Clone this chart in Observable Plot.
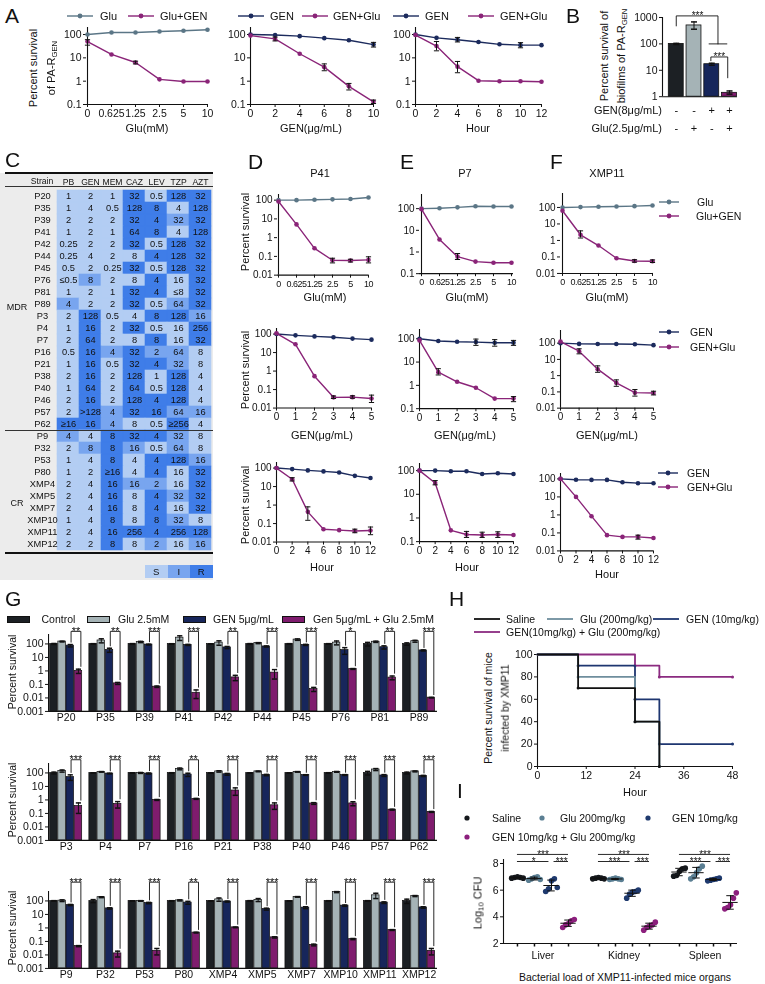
<!DOCTYPE html>
<html>
<head>
<meta charset="utf-8">
<script src="https://cdn.jsdelivr.net/npm/d3@7"></script>
<script src="https://cdn.jsdelivr.net/npm/@observablehq/plot@0.6"></script>
<style>
  html, body { margin: 0; padding: 0; background: #fff; }
  #fig { position: relative; width: 765px; height: 984px; overflow: hidden; background: #fff;
         font-family: "Liberation Sans", Arial, Helvetica, sans-serif; color: #111; }
  .abs { position: absolute; white-space: nowrap; line-height: 1; }
  #fig svg { overflow: visible; }
  sub { font-size: 70%; vertical-align: -2px; line-height: 0; }
</style>
</head>
<body>
<div id="fig"></div>
<script>
// ---------------- data ----------------
// Panel A: PA-R(GEN) killing
const gluDoses = ["0", "0.625", "1.25", "2.5", "5", "10"];
const aGluAlone = [100, 122, 122, 135, 145, 160];
const aGluCombo = [50, 14, 6.3, 1.2, 0.97, 0.97];
const aGluComboErr = [[35, 60], null, [5.5, 7.2], null, null, null];
const aGenDoses = [0, 2, 4, 6, 8, 10];
const aGenAlone = [100, 95, 85, 70, 57, 37];
const aGenAloneErr = [null, null, null, null, null, [29, 46]];
const aGenCombo = [90, 65, 15, 4, 0.6, 0.13];
const aGenComboErr = [null, [53, 78], null, [2.8, 5.5], [0.42, 0.8], [0.11, 0.155]];
const hours = [0, 2, 4, 6, 8, 10, 12];
const aTimeAlone = [100, 72, 60, 48, 38, 35, 35];
const aTimeAloneErr = [null, null, [48, 75], null, null, [27, 45], null];
const aTimeCombo = [95, 32, 4.2, 1.05, 1.0, 1.0, 0.95];
const aTimeComboErr = [null, [20, 50], [2.3, 7], null, null, null, null];

// Panel B: biofilm survival
const bGroups = ["Control", "Glu", "GEN", "GEN+Glu"];
const bMean = [100, 500, 17, 1.4];
const bErr = [[95, 105], [360, 680], [15.5, 18.5], [1.25, 1.65]];
const bGenSign = ["-", "-", "+", "+"];
const bGluSign = ["-", "+", "-", "+"];

// Panel C: MIC table (µg/mL) and S / I / R class
const cDrugs = ["PB", "GEN", "MEM", "CAZ", "LEV", "TZP", "AZT"];
const cStrains = ["P20","P35","P39","P41","P42","P44","P45","P76","P81","P89","P3","P4","P7","P16","P21","P38","P40","P46","P57","P62",
                  "P9","P32","P53","P80","XMP4","XMP5","XMP7","XMP10","XMP11","XMP12"];
const cMic = [
  ["1","2","1","32","0.5","128","32"],
  ["1","4","0.5","128","8","4","128"],
  ["2","2","2","32","4","32","32"],
  ["1","2","1","64","8","4","128"],
  ["0.25","2","2","32","0.5","128","32"],
  ["0.25","4","2","8","4","128","32"],
  ["0.5","2","0.25","32","0.5","128","32"],
  ["≤0.5","8","2","8","4","16","32"],
  ["1","2","1","32","4","≤8","32"],
  ["4","2","2","32","0.5","64","32"],
  ["2","128","0.5","4","8","128","16"],
  ["1","16","2","32","0.5","16","256"],
  ["2","64","2","8","8","16","32"],
  ["0.5","16","4","32","2","64","8"],
  ["1","16","0.5","32","4","32","8"],
  ["2","16","2","128","1","128","4"],
  ["1","64","2","64","0.5","128","4"],
  ["2","16","2","128","4","128","4"],
  ["2",">128","4","32","16","64","16"],
  ["≥16","16","4","8","0.5","≥256","4"],
  ["4","4","8","32","4","32","8"],
  ["2","8","8","16","0.5","64","8"],
  ["1","4","8","4","4","128","16"],
  ["1","2","≥16","4","4","16","32"],
  ["2","4","16","16","2","16","32"],
  ["2","4","16","8","4","32","32"],
  ["2","4","16","8","4","16","32"],
  ["1","4","8","8","8","32","8"],
  ["2","4","16","256","4","256","128"],
  ["2","2","8","8","2","16","16"]
];
const cClass = ["SSSRSRR","SSSRRSR","SSSRRIR","SSSRRSR","SSSRSRR","SSSSRRR","SSSRSRR","SISSRSR","SSSRRSR","ISSRSIR",
                "SRSSRRI","SRSRSSR","SRSSRSR","SRIRIIS","SRSRRIS","SRSRSRS","SRSRSRS","SRSRRRS","SRIRRII","RRISSRS",
                "ISRRRIS","SIRISIS","SSRSRRI","SSRSRSR","SSRIISR","SSRSRIR","SSRSRSR","SSRSRIS","SSRRRRR","SSRSISI"];

// Panels D-F: three clinical strains
const genDoses = [0, 1, 2, 3, 4, 5];
const p41GluAlone = [100, 100, 105, 110, 115, 138];
const p41GluCombo = [85, 5.1, 0.27, 0.062, 0.06, 0.065];
const p41GluComboErr = [null, null, null, [0.045, 0.08], [0.05, 0.07], [0.045, 0.095]];
const p41GenAlone = [100, 85, 75, 67, 57, 50];
const p41GenCombo = [110, 28, 0.53, 0.038, 0.039, 0.033];
const p41GenComboErr = [null, null, null, [0.033, 0.045], [0.034, 0.046], [0.02, 0.05]];
const p41TimeAlone = [100, 88, 75, 66, 58, 38, 29];
const p41TimeCombo = [100, 25, 0.43, 0.049, 0.044, 0.04, 0.042];
const p41TimeComboErr = [null, [20, 30], [0.15, 0.8], null, null, [0.032, 0.05], [0.025, 0.065]];

const p7GluAlone = [100, 105, 115, 130, 125, 125];
const p7GluCombo = [95, 3.8, 0.61, 0.36, 0.32, 0.32];
const p7GluComboErr = [null, null, [0.45, 0.85], null, null, null];
const p7GenAlone = [100, 80, 74, 72, 67, 67];
const p7GenAloneErr = [null, null, null, [52, 97], [48, 92], [52, 85]];
const p7GenCombo = [85, 3.7, 1.43, 0.79, 0.27, 0.27];
const p7GenComboErr = [null, [2.8, 5.2], null, null, null, [0.2, 0.33]];
const p7TimeAlone = [100, 100, 94, 94, 72, 77, 72];
const p7TimeCombo = [100, 30, 0.3, 0.2, 0.19, 0.2, 0.19];
const p7TimeComboErr = [null, [25, 38], null, [0.15, 0.27], [0.15, 0.25], [0.15, 0.26], null];

const xmp11GluAlone = [100, 105, 110, 115, 120, 130];
const xmp11GluCombo = [63, 2.2, 0.49, 0.083, 0.057, 0.055];
const xmp11GluComboErr = [null, [1.4, 3.8], null, null, [0.048, 0.068], [0.046, 0.066]];
const xmp11GenAlone = [100, 90, 88, 88, 85, 75];
const xmp11GenCombo = [125, 32, 2.5, 0.36, 0.09, 0.085];
const xmp11GenComboErr = [null, [22, 45], [1.6, 4], [0.22, 0.55], [0.055, 0.14], [0.065, 0.11]];
const xmp11TimeAlone = [100, 90, 88, 88, 65, 58, 57];
const xmp11TimeCombo = [100, 10, 0.85, 0.075, 0.06, 0.06, 0.052];
const xmp11TimeComboErr = [null, null, null, null, null, [0.045, 0.075], null];

// Panel G: 30 strains, [mean, sd]
const g1Strains = ["P20","P35","P39","P41","P42","P44","P45","P76","P81","P89"];
const g1Control = [[100,8],[100,5],[100,6],[100,4],[100,3],[100,6],[100,5],[100,5],[100,30],[100,20]];
const g1Glu = [[150,10],[180,60],[140,15],[290,110],[125,45],[115,10],[210,25],[125,40],[145,15],[160,25]];
const g1Gen = [[75,15],[36,12],[90,6],[85,8],[55,10],[65,6],[85,8],[35,18],[57,15],[33,3]];
const g1Combo = [[1.0,0.35],[0.12,0.02],[0.068,0.008],[0.024,0.015],[0.33,0.14],[0.75,0.5],[0.045,0.015],[1.4,0.1],[0.32,0.1],[0.0105,0.0005]];
const g1Sig = ["**","**","***","***","**","***","***","*","**","***"];

const g2Strains = ["P3","P4","P7","P16","P21","P38","P40","P46","P57","P62"];
const g2Control = [[100,15],[100,3],[100,3],[100,4],[100,3],[100,3],[100,3],[100,4],[100,30],[100,15]];
const g2Glu = [[140,25],[120,6],[100,8],[200,30],[130,15],[130,8],[120,6],[120,8],[180,30],[130,10]];
const g2Gen = [[50,22],[90,5],[90,8],[75,20],[80,12],[70,8],[70,4],[70,5],[65,10],[60,6]];
const g2Combo = [[0.35,0.25],[0.5,0.25],[1.0,0.08],[1.2,0.1],[5,2.8],[0.4,0.2],[0.55,0.08],[0.55,0.18],[0.19,0.015],[0.13,0.01]];
const g2Sig = ["***","***","***","**","***","***","***","***","***","***"];

const g3Strains = ["P9","P32","P53","P80","XMP4","XMP5","XMP7","XMP10","XMP11","XMP12"];
const g3Control = [[100,5],[100,25],[100,3],[100,4],[100,3],[100,5],[100,3],[100,4],[100,5],[100,35]];
const g3Glu = [[105,15],[190,15],[100,5],[110,10],[130,35],[120,30],[200,10],[450,40],[260,110],[230,20]];
const g3Gen = [[50,5],[28,3],[70,8],[75,18],[90,8],[25,4],[32,5],[45,5],[75,10],[33,4]];
const g3Combo = [[0.045,0.004],[0.013,0.006],[0.02,0.01],[0.45,0.03],[1.1,0.06],[0.2,0.02],[0.055,0.008],[0.15,0.015],[0.7,0.05],[0.02,0.01]];
const g3Sig = ["***","***","***","**","***","***","***","***","***","***"];

// Panel H: mouse survival (%), step points
const hSalineT = [0, 10, 24, 30], hSalineS = [100, 70, 40, 0];
const hGluT = [0, 10, 24, 30], hGluS = [100, 80, 40, 0];
const hGenT = [0, 10, 24, 30, 48], hGenS = [100, 90, 60, 20, 20];
const hComboT = [0, 24, 30, 48], hComboS = [100, 90, 80, 80];

// Panel I: log10 CFU per organ, 5 mice per group
const organs = ["Liver", "Kidney", "Spleen"];
const iSaline = [[6.9, 6.95, 7.0, 6.95, 6.9], [6.85, 6.9, 6.95, 6.9, 6.85], [7.05, 7.1, 7.4, 7.6, 7.65]];
const iGlu = [[6.75, 6.85, 6.95, 7.0, 6.8], [6.8, 6.85, 6.9, 6.85, 6.8], [6.85, 7.0, 7.3, 7.6, 7.8]];
const iGen = [[5.9, 6.1, 6.7, 6.85, 6.2], [5.4, 5.7, 5.85, 5.9, 6.0], [6.7, 6.75, 6.8, 6.85, 6.9]];
const iCombo = [[3.2, 3.4, 3.5, 3.7, 3.8], [3.0, 3.2, 3.3, 3.4, 3.6], [4.6, 4.7, 4.9, 5.4, 5.8]];
const iSigTop = ["***", "***", "***"], iSigLeft = ["*", "***", "***"], iSigRight = ["***", "***", "***"];

// ---------------- drawing helpers ----------------
const fig = document.getElementById("fig");
const FONT = '"Liberation Sans", Arial, Helvetica, sans-serif';
const COL = {
  ctrl: "#1c2024", gluBar: "#a5b3b6", gen: "#17265b", combo: "#7f1c6e",
  gluLine: "#5b7686", genLine: "#1c2b5d", comboLine: "#8a2478",
  S: "#b3cdf3", I: "#78a5ef", R: "#3f7de8"
};
const num = d => String(d);

function text(str, x, y, o = {}) {
  const d = document.createElement("div");
  d.className = "abs";
  d.style.fontSize = (o.size || 10.5) + "px";
  if (o.html) d.innerHTML = str; else d.textContent = str;
  d.style.left = x + "px";
  d.style.top = y + "px";
  const tx = o.anchor === "middle" ? "-50%" : o.anchor === "end" ? "-100%" : "0";
  d.style.transform = o.rotate ? "translate(-50%,-50%) rotate(-90deg)" : `translate(${tx},-50%)`;
  fig.appendChild(d);
  return d;
}
function box(x, y, w, h, color, border) {
  const d = document.createElement("div");
  d.className = "abs";
  Object.assign(d.style, {left: x + "px", top: y + "px", width: w + "px", height: h + "px", background: color, boxSizing: "border-box"});
  if (border) d.style.border = border;
  fig.appendChild(d);
  return d;
}
function lineKey(x, y, color, w = 26, dot = true, sw = 1.4) {
  fig.insertAdjacentHTML("beforeend",
    `<svg class="abs" style="left:${x}px;top:${y - 5}px" width="${w}" height="10"><line x1="0" y1="5" x2="${w}" y2="5" stroke="${color}" stroke-width="${sw}"/>` +
    (dot ? `<circle cx="${w / 2}" cy="5" r="2.4" fill="${color}"/>` : "") + `</svg>`);
}
function dotKey(x, y, color, r = 2.6) {
  fig.insertAdjacentHTML("beforeend",
    `<svg class="abs" style="left:${x - 5}px;top:${y - 5}px" width="10" height="10"><circle cx="5" cy="5" r="${r}" fill="${color}"/></svg>`);
}
const logFrame = (x0, x1, yMin, perDec, lo, hi) => ({x0, x1, y1: yMin, y0: yMin - perDec * Math.log10(hi / lo)});

// place a plot so that its frame lands on the given page rectangle
function place(f, opts, fontSize = 10.5) {
  const ml = f.ml ?? 40, mr = f.mr ?? 10, mt = f.mt ?? 8, mb = f.mb ?? 24;
  const svg = Plot.plot({
    width: f.x1 - f.x0 + ml + mr,
    height: f.y1 - f.y0 + mt + mb,
    marginLeft: ml, marginRight: mr, marginTop: mt, marginBottom: mb,
    style: {fontFamily: FONT, fontSize: fontSize + "px", background: "none", overflow: "visible", color: "#111"},
    ...opts
  });
  svg.style.position = "absolute";
  svg.style.left = (f.x0 - ml) + "px";
  svg.style.top = (f.y0 - mt) + "px";
  svg.style.maxWidth = "none";
  svg.style.willChange = "transform";
  fig.appendChild(svg);
  return svg;
}
const capSymbol = w => ({draw(ctx) { ctx.moveTo(-w, 0); ctx.lineTo(w, 0); }});
const tickSymbol = h => ({draw(ctx) { ctx.moveTo(0, 0); ctx.lineTo(0, h); }});

// time-kill / dose-response curve on a log axis
function survival(frame, xOpt, yDomain, yTicks, series, fontSize = 10, xTickCss = null) {
  const marks = [
    Plot.ruleY([yDomain[0]], {stroke: "#111", strokeWidth: 1.1}),
    Plot.ruleX([xOpt.domain[0]], {stroke: "#111", strokeWidth: 1.1})
  ];
  const errs = [];
  for (const s of series) {
    const pts = s.ys.map((v, i) => ({x: s.xs[i], y: v}));
    marks.push(Plot.line(pts, {x: "x", y: "y", stroke: s.color, strokeWidth: 1.4}));
    marks.push(Plot.dot(pts, {x: "x", y: "y", r: 2.3, fill: s.color}));
    (s.err || []).forEach((e, i) => { if (e) errs.push({x: s.xs[i], lo: e[0], hi: e[1]}); });
  }
  marks.push(Plot.ruleX(errs, {x: "x", y1: "lo", y2: "hi", stroke: "#111", strokeWidth: 1}));
  marks.push(Plot.dot(errs, {x: "x", y: "lo", symbol: capSymbol(2.6), stroke: "#111", fill: "none", strokeWidth: 1}));
  marks.push(Plot.dot(errs, {x: "x", y: "hi", symbol: capSymbol(2.6), stroke: "#111", fill: "none", strokeWidth: 1}));
  const svg = place(frame, {
    x: {tickFormat: num, ...xOpt, tickSize: 3, tickPadding: 2, label: null},
    y: {type: "log", domain: yDomain, ticks: yTicks, tickFormat: num, tickSize: 3, tickPadding: 2, label: null},
    marks
  }, fontSize);
  if (xTickCss) {
    svg.querySelectorAll('[aria-label="x-axis tick label"] text, [aria-label="x-axis"] text')
      .forEach(t => Object.assign(t.style, xTickCss));
  }
}

// ---------------- Panel A ----------------
text("A", 5, 15, {size: 21});
const aY = [0.1, 200], aTicks = [0.1, 1, 10, 100];
survival(logFrame(86, 208, 104.3, 23.33, 0.1, 200), {type: "point", domain: gluDoses, padding: 0}, aY, aTicks, [
  {xs: gluDoses, ys: aGluAlone, color: COL.gluLine},
  {xs: gluDoses, ys: aGluCombo, err: aGluComboErr, color: COL.comboLine}
], 10.5);
survival(logFrame(250, 373, 104.3, 23.33, 0.1, 200), {domain: [0, 10], ticks: aGenDoses}, aY, aTicks, [
  {xs: aGenDoses, ys: aGenAlone, err: aGenAloneErr, color: COL.genLine},
  {xs: aGenDoses, ys: aGenCombo, err: aGenComboErr, color: COL.comboLine}
], 10.5);
survival(logFrame(415, 541, 104.3, 23.33, 0.1, 200), {domain: [0, 12], ticks: hours}, aY, aTicks, [
  {xs: hours, ys: aTimeAlone, err: aTimeAloneErr, color: COL.genLine},
  {xs: hours, ys: aTimeCombo, err: aTimeComboErr, color: COL.comboLine}
], 10.5);
lineKey(67, 16, COL.gluLine); text("Glu", 100, 16, {size: 11});
lineKey(128, 16, COL.comboLine); text("Glu+GEN", 160, 16, {size: 11});
lineKey(238, 16, COL.genLine); text("GEN", 270, 16, {size: 11});
lineKey(302, 16, COL.comboLine); text("GEN+Glu", 333, 16, {size: 11});
lineKey(393, 16, COL.genLine); text("GEN", 425, 16, {size: 11});
lineKey(468, 16, COL.comboLine); text("GEN+Glu", 500, 16, {size: 11});
text("Percent survival", 33, 68, {rotate: true, size: 11});
text("of PA-R<sub>GEN</sub>", 51, 68, {rotate: true, size: 11, html: true});
text("Glu(mM)", 147, 128, {anchor: "middle", size: 11});
text("GEN(μg/mL)", 311, 128, {anchor: "middle", size: 11});
text("Hour", 478, 128, {anchor: "middle", size: 11});

// ---------------- Panel B ----------------
text("B", 566, 15, {size: 21});
{
  const rows = bGroups.map((g, i) => ({i, g, v: bMean[i], lo: bErr[i][0], hi: bErr[i][1], gen: bGenSign[i], glu: bGluSign[i]}));
  // comparison brackets: polyline points in (bar position, survival) and star labels
  const brackets = [
    {pts: [[0, 480], [0, 1150], [2.35, 1150], [2.35, 100]], label: "***", at: [1.2, 1150]},
    {pts: [[1.85, 100], [2.85, 100]]},
    {pts: [[1.95, 23], [1.95, 32], [2.9, 32], [2.9, 5.2]], label: "***", at: [2.42, 32]}
  ];
  const bl = brackets.flatMap((b, k) => b.pts.map(([x, y]) => ({k, x, y})));
  const stars = brackets.filter(b => b.label).map(b => ({x: b.at[0], y: b.at[1], s: b.label}));
  place({...logFrame(662, 737, 96, 26.4, 1, 1000), ml: 30, mr: 5, mt: 16, mb: 40}, {
    x: {domain: [-0.775, 3.45], axis: null},
    y: {type: "log", domain: [1, 1000], ticks: [1, 10, 100, 1000], tickFormat: num, tickSize: 3, tickPadding: 2, label: null},
    color: {domain: bGroups, range: [COL.ctrl, COL.gluBar, COL.gen, COL.combo]},
    marks: [
      Plot.rect(rows, {x1: d => d.i - 0.42, x2: d => d.i + 0.42, y1: () => 1, y2: "v", fill: "g", stroke: "#111", strokeWidth: 0.8}),
      Plot.ruleX(rows, {x: "i", y1: "lo", y2: "hi", stroke: "#111"}),
      Plot.dot(rows, {x: "i", y: "hi", symbol: capSymbol(3), stroke: "#111", fill: "none"}),
      Plot.dot(rows, {x: "i", y: "lo", symbol: capSymbol(3), stroke: "#111", fill: "none"}),
      Plot.ruleY([1], {stroke: "#111", strokeWidth: 1.1}),
      Plot.ruleX([-0.775], {stroke: "#111", strokeWidth: 1.1}),
      Plot.line(bl, {x: "x", y: "y", z: "k", stroke: "#111", strokeWidth: 0.9}),
      Plot.text(stars, {x: "x", y: "y", text: "s", fontSize: 10, fill: "#111"}),
      Plot.text(rows, {x: "i", y: () => 1, text: "gen", dy: 14, fontSize: 11}),
      Plot.text(rows, {x: "i", y: () => 1, text: "glu", dy: 32, fontSize: 11})
    ]
  }, 10.5);
}
text("Percent survival of", 604, 56, {rotate: true, size: 11});
text("biofilms of PA-R<sub>GEN</sub>", 621, 56, {rotate: true, size: 11, html: true});
text("GEN(8μg/mL)", 662, 110, {anchor: "end", size: 11});
text("Glu(2.5μg/mL)", 662, 128, {anchor: "end", size: 11});

// ---------------- Panel C ----------------
text("C", 5, 159, {size: 21});
box(0, 173, 213, 407, "#ececec");
{
  const cells = [];
  cStrains.forEach((st, r) => cDrugs.forEach((dr, c) => cells.push({strain: st, drug: dr, mic: cMic[r][c], cls: cClass[r][c]})));
  place({x0: 55, x1: 212, y0: 187, y1: 553, ml: 55, mr: 3, mt: 16, mb: 4}, {
    x: {type: "band", domain: cDrugs, padding: 0},
    y: {type: "band", domain: cStrains, padding: 0},
    color: {domain: ["S", "I", "R"], range: [COL.S, COL.I, COL.R]},
    marks: [
      Plot.cell(cells, {x: "drug", y: "strain", fill: "cls", stroke: "cls", strokeWidth: 0.6}),
      Plot.text(cells, {x: "drug", y: "strain", text: "mic", fill: "#111", fontSize: 9.3}),
      Plot.axisX({anchor: "top", tickSize: 0, tickPadding: 3, label: null, fontSize: 8.6}),
      Plot.axisY({tickSize: 0, tickPadding: 13, textAnchor: "middle", label: null, fontSize: 9.3})
    ]
  }, 9.3);
}
box(5, 172.25, 208, 1.5, "#111");
box(5, 185.5, 208, 1, "#333");
box(5, 429.5, 208, 1, "#333");
box(5, 552.25, 208, 1.5, "#111");
text("Strain", 42, 181, {anchor: "middle", size: 8.6});
text("MDR", 17, 307, {anchor: "middle", size: 9});
text("CR", 17, 503, {anchor: "middle", size: 9});
[["S", COL.S, 145], ["I", COL.I, 167.5], ["R", COL.R, 190]].forEach(([k, c, x]) => {
  box(x, 565, 22.5, 13, c);
  text(k, x + 11.25, 572, {anchor: "middle", size: 9.5});
});

// ---------------- Panels D, E, F ----------------
text("D", 248, 161, {size: 21});
text("E", 400, 161, {size: 21});
text("F", 550, 161, {size: 21});
text("P41", 320, 173, {anchor: "middle", size: 11});
text("P7", 465, 173, {anchor: "middle", size: 11});
text("XMP11", 607, 173, {anchor: "middle", size: 11});
const ptX = {type: "point", domain: gluDoses, padding: 0};
const genX = {domain: [0, 5], ticks: genDoses};
const hrX = {domain: [0, 12], ticks: hours};
const t2 = [0.01, 0.1, 1, 10, 100], t1 = [0.1, 1, 10, 100];
const tight = {fontSize: "9px", letterSpacing: "-0.5px"};
// Glu dose row
survival(logFrame(277, 368, 275, 18.75, 0.01, 200), ptX, [0.01, 200], t2, [
  {xs: gluDoses, ys: p41GluAlone, color: COL.gluLine},
  {xs: gluDoses, ys: p41GluCombo, err: p41GluComboErr, color: COL.comboLine}], 10, tight);
survival(logFrame(419, 513, 273, 21.67, 0.1, 450), ptX, [0.1, 450], t1, [
  {xs: gluDoses, ys: p7GluAlone, color: COL.gluLine},
  {xs: gluDoses, ys: p7GluCombo, err: p7GluComboErr, color: COL.comboLine}], 10, tight);
survival(logFrame(560, 653, 273, 16.5, 0.01, 700), ptX, [0.01, 700], t2, [
  {xs: gluDoses, ys: xmp11GluAlone, color: COL.gluLine},
  {xs: gluDoses, ys: xmp11GluCombo, err: xmp11GluComboErr, color: COL.comboLine}], 10, tight);
// GEN dose row
survival(logFrame(276, 371, 408, 18.5, 0.01, 200), genX, [0.01, 200], t2, [
  {xs: genDoses, ys: p41GenAlone, color: COL.genLine},
  {xs: genDoses, ys: p41GenCombo, err: p41GenComboErr, color: COL.comboLine}]);
survival(logFrame(419, 513, 408, 23.3, 0.1, 250), genX, [0.1, 250], t1, [
  {xs: genDoses, ys: p7GenAlone, err: p7GenAloneErr, color: COL.genLine},
  {xs: genDoses, ys: p7GenCombo, err: p7GenComboErr, color: COL.comboLine}]);
survival(logFrame(560, 653, 408, 16.25, 0.01, 600), genX, [0.01, 600], t2, [
  {xs: genDoses, ys: xmp11GenAlone, color: COL.genLine},
  {xs: genDoses, ys: xmp11GenCombo, err: xmp11GenComboErr, color: COL.comboLine}]);
// time row
survival(logFrame(276, 370, 542, 18.5, 0.01, 200), hrX, [0.01, 200], t2, [
  {xs: hours, ys: p41TimeAlone, color: COL.genLine},
  {xs: hours, ys: p41TimeCombo, err: p41TimeComboErr, color: COL.comboLine}]);
survival(logFrame(419, 513, 541, 23.67, 0.1, 200), hrX, [0.1, 200], t1, [
  {xs: hours, ys: p7TimeAlone, color: COL.genLine},
  {xs: hours, ys: p7TimeCombo, err: p7TimeComboErr, color: COL.comboLine}]);
survival(logFrame(560, 653, 550, 18, 0.01, 200), hrX, [0.01, 200], t2, [
  {xs: hours, ys: xmp11TimeAlone, color: COL.genLine},
  {xs: hours, ys: xmp11TimeCombo, err: xmp11TimeComboErr, color: COL.comboLine}]);
[232, 370, 505].forEach(y => text("Percent survival", 245, y, {rotate: true, size: 11}));
[325, 467, 607].forEach(x => text("Glu(mM)", x, 297, {anchor: "middle", size: 11}));
[322, 465, 607].forEach(x => text("GEN(μg/mL)", x, 435, {anchor: "middle", size: 11}));
text("Hour", 322, 567, {anchor: "middle", size: 11});
text("Hour", 467, 567, {anchor: "middle", size: 11});
text("Hour", 607, 574, {anchor: "middle", size: 11});
lineKey(659, 202, COL.gluLine, 20); text("Glu", 697, 202, {size: 10.5});
lineKey(659, 216, COL.comboLine, 20); text("Glu+GEN", 696, 216, {size: 10.5});
lineKey(659, 332, COL.genLine, 20); text("GEN", 690, 332, {size: 10.5});
lineKey(659, 347, COL.comboLine, 20); text("GEN+Glu", 690, 347, {size: 10.5});
lineKey(658, 473, COL.genLine, 20); text("GEN", 687, 473, {size: 10.5});
lineKey(658, 487, COL.comboLine, 20); text("GEN+Glu", 687, 487, {size: 10.5});

// ---------------- Panel G ----------------
text("G", 5, 598, {size: 21});
function gPanel(frame, strains, control, glu, gen, combo, sig, level) {
  const step = 4.8, yMin = 0.001;
  const keys = ["Control", "Glu", "GEN", "Combo"];
  const rows = [];
  [control, glu, gen, combo].forEach((ser, s) => ser.forEach(([m, sd], g) =>
    rows.push({g, s, key: keys[s], x: g * step + s, v: m, lo: Math.max(m - sd, yMin * 1.2), hi: m + sd})));
  const legs = [], stars = [];
  strains.forEach((st, g) => {
    const a = rows.find(r => r.g === g && r.s === 2), b = rows.find(r => r.g === g && r.s === 3);
    const xl = a.x + 0.1, xr = b.x + 0.3;
    legs.push({g, x: xl, y: a.hi * 1.5}, {g, x: xl, y: level}, {g, x: xr, y: level}, {g, x: xr, y: b.hi * 1.6});
    stars.push({x: (xl + xr) / 2, y: level, s: sig[g]});
  });
  const centers = strains.map((_, g) => g * step + 1.5);
  const names = new Map(centers.map((c, g) => [c, strains[g]]));
  const xDom = [-0.66, 46.95];
  place({...frame, ml: 40, mr: 8, mt: 20, mb: 16}, {
    x: {domain: xDom, ticks: centers, tickFormat: v => names.get(v), tickSize: 0, tickPadding: 2, label: null},
    y: {type: "log", domain: [yMin, 500], ticks: [0.001, 0.01, 0.1, 1, 10, 100], tickFormat: num, tickSize: 3, tickPadding: 2, label: null},
    color: {domain: keys, range: [COL.ctrl, COL.gluBar, COL.gen, COL.combo]},
    marks: [
      Plot.rect(rows, {x1: d => d.x - 0.46, x2: d => d.x + 0.46, y1: () => yMin, y2: "v", fill: "key", stroke: "#111", strokeWidth: 0.7}),
      Plot.ruleX(rows, {x: "x", y1: "lo", y2: "hi", stroke: "#111", strokeWidth: 1}),
      Plot.dot(rows, {x: "x", y: "hi", symbol: capSymbol(2.6), stroke: "#111", fill: "none"}),
      Plot.dot(rows, {x: "x", y: "lo", symbol: capSymbol(2.6), stroke: "#111", fill: "none"}),
      Plot.ruleY([yMin], {stroke: "#111", strokeWidth: 1.1}),
      Plot.ruleX([xDom[0]], {stroke: "#111", strokeWidth: 1.1}),
      Plot.line(legs, {x: "x", y: "y", z: "g", stroke: "#111", strokeWidth: 0.9}),
      Plot.text(stars, {x: "x", y: "y", text: "s", fontSize: 11, fill: "#111"})
    ]
  }, 10.5);
}
gPanel(logFrame(48, 437, 711, 13.5, 0.001, 500), g1Strains, g1Control, g1Glu, g1Gen, g1Combo, g1Sig, 850);
gPanel(logFrame(48, 437, 840, 13.5, 0.001, 500), g2Strains, g2Control, g2Glu, g2Gen, g2Combo, g2Sig, 950);
gPanel(logFrame(48, 437, 968, 13.5, 0.001, 500), g3Strains, g3Control, g3Glu, g3Gen, g3Combo, g3Sig, 2450);
[672, 800, 928].forEach(y => text("Percent survival", 12, y, {rotate: true, size: 10.5}));
box(7, 615.5, 23, 7, COL.ctrl, "1px solid #111"); text("Control", 41.5, 619, {size: 10.5});
box(87, 615.5, 23, 7, COL.gluBar, "1px solid #111"); text("Glu 2.5mM", 118, 619, {size: 10.5});
box(183, 615.5, 23, 7, COL.gen, "1px solid #111"); text("GEN 5μg/mL", 213, 619, {size: 10.5});
box(282, 615.5, 23, 7, COL.combo, "1px solid #111"); text("Gen 5μg/mL + Glu 2.5mM", 313, 619, {size: 10.5});

// ---------------- Panel H ----------------
text("H", 449, 598, {size: 21});
{
  const hSeries = [
    {t: hComboT, s: hComboS, color: "#8b2b80"},
    {t: hGenT, s: hGenS, color: "#1e3670"},
    {t: hGluT, s: hGluS, color: "#6f8e9d"},
    {t: hSalineT, s: hSalineS, color: "#111"}
  ];
  const marks = [Plot.ruleX([0], {stroke: "#111", strokeWidth: 1.1}), Plot.ruleY([0], {stroke: "#111", strokeWidth: 1.1})];
  hSeries.forEach(h => {
    const pts = h.t.map((t, i) => ({t, s: h.s[i]}));
    marks.push(Plot.line(pts, {x: "t", y: "s", curve: "step-after", stroke: h.color, strokeWidth: 1.8}));
    marks.push(Plot.dot(pts.slice(1), {x: "t", y: "s", r: 1.5, fill: h.color}));
  });
  place({x0: 537, x1: 732, y0: 654, y1: 766, ml: 30, mr: 10, mt: 6, mb: 20}, {
    x: {domain: [0, 48], ticks: [0, 12, 24, 36, 48], tickFormat: num, tickSize: 3, tickPadding: 2, label: null},
    y: {domain: [0, 100], ticks: [0, 20, 40, 60, 80, 100], tickFormat: num, tickSize: 3, tickPadding: 2, label: null},
    marks
  }, 10.5);
}
lineKey(474, 619, "#111", 26, false, 1.8); text("Saline", 506, 619, {size: 10.5});
lineKey(547, 619, "#6f8e9d", 26, false, 1.8); text("Glu (200mg/kg)", 580, 619, {size: 10.5});
lineKey(653, 619, "#1e3670", 26, false, 1.8); text("GEN (10mg/kg)", 686, 619, {size: 10.5});
lineKey(474, 632, "#8b2b80", 26, false, 1.8); text("GEN(10mg/kg) + Glu (200mg/kg)", 506, 632, {size: 10.5});
text("Percent survival of mice", 488, 708, {rotate: true, size: 10.5});
text("infected by XMP11", 505, 708, {rotate: true, size: 10.5});
text("Hour", 635, 792, {anchor: "middle", size: 11});

// ---------------- Panel I ----------------
text("I", 457, 790, {size: 21});
{
  const step = 4.76;
  const spread = [-0.34, -0.17, 0, 0.17, 0.34];
  const keys = ["Saline", "Glu", "GEN", "Combo"];
  const colors = ["#15181c", "#5b7f93", "#1f3a6e", "#8c1f7d"];
  const pts = [], stats = [];
  organs.forEach((o, g) => [iSaline, iGlu, iGen, iCombo].forEach((arr, s) => {
    const vals = arr[g];
    vals.forEach((v, k) => pts.push({x: g * step + s + spread[k], y: v, key: keys[s]}));
    const m = d3.mean(vals), sd = d3.deviation(vals);
    stats.push({x: g * step + s, m, lo: m - sd, hi: m + sd});
  }));
  const topLevel = 8.68, lowLevel = 8.15;
  const sigLines = [], sigText = [];
  organs.forEach((o, g) => {
    const x0 = g * step;
    sigLines.push({x1: x0, x2: x0 + 3, y: topLevel}, {x1: x0, x2: x0 + 1.85, y: lowLevel}, {x1: x0 + 2.15, x2: x0 + 3, y: lowLevel});
    sigText.push({x: x0 + 1.5, y: topLevel, s: iSigTop[g]}, {x: x0 + 0.95, y: lowLevel, s: iSigLeft[g]}, {x: x0 + 2.6, y: lowLevel, s: iSigRight[g]});
  });
  const centers = organs.map((_, g) => g * step + 1.5);
  const names = new Map(centers.map((c, g) => [c, organs[g]]));
  const positions = organs.flatMap((_, g) => [0, 1, 2, 3].map(s => g * step + s));
  const xDom = [-0.82, 12.93];
  place({x0: 503, x1: 737, y0: 859, y1: 943, ml: 25, mr: 5, mt: 14, mb: 20}, {
    x: {domain: xDom, ticks: centers, tickFormat: v => names.get(v), tickSize: 0, tickPadding: 8, label: null},
    y: {domain: [2, 8.3], ticks: [2, 4, 6, 8], tickFormat: num, tickSize: 3, tickPadding: 2, label: null},
    color: {domain: keys, range: colors},
    marks: [
      Plot.ruleX([xDom[0]], {stroke: "#111", strokeWidth: 1.1}),
      Plot.ruleY([2], {stroke: "#111", strokeWidth: 1.1}),
      Plot.dot(positions, {x: d => d, y: () => 2, symbol: tickSymbol(3), stroke: "#111", fill: "none"}),
      Plot.dot(pts, {x: "x", y: "y", r: 2.8, fill: "key"}),
      Plot.ruleY(stats, {y: "m", x1: d => d.x - 0.45, x2: d => d.x + 0.45, stroke: "#111", strokeWidth: 1}),
      Plot.ruleX(stats, {x: "x", y1: "lo", y2: "hi", stroke: "#111", strokeWidth: 1}),
      Plot.ruleY(stats, {y: "lo", x1: d => d.x - 0.22, x2: d => d.x + 0.22, stroke: "#111", strokeWidth: 1}),
      Plot.ruleY(stats, {y: "hi", x1: d => d.x - 0.22, x2: d => d.x + 0.22, stroke: "#111", strokeWidth: 1}),
      Plot.ruleY(sigLines, {y: "y", x1: "x1", x2: "x2", stroke: "#111", strokeWidth: 0.9}),
      Plot.text(sigText, {x: "x", y: "y", text: "s", fontSize: 10, fill: "#111"})
    ]
  }, 10.5);
}
dotKey(467, 818, "#15181c"); text("Saline", 492, 818, {size: 10.5});
dotKey(542, 818, "#5b7f93"); text("Glu 200mg/kg", 560, 818, {size: 10.5});
dotKey(648, 818, "#1f3a6e"); text("GEN 10mg/kg", 672, 818, {size: 10.5});
dotKey(467, 837, "#8c1f7d"); text("GEN 10mg/kg + Glu 200mg/kg", 492, 837, {size: 10.5});
text("Log<sub>10</sub> CFU", 478, 903, {rotate: true, size: 11, html: true});
text("Bacterial load of XMP11-infected mice organs", 625, 977, {anchor: "middle", size: 10.5});
</script>
</body>
</html>
